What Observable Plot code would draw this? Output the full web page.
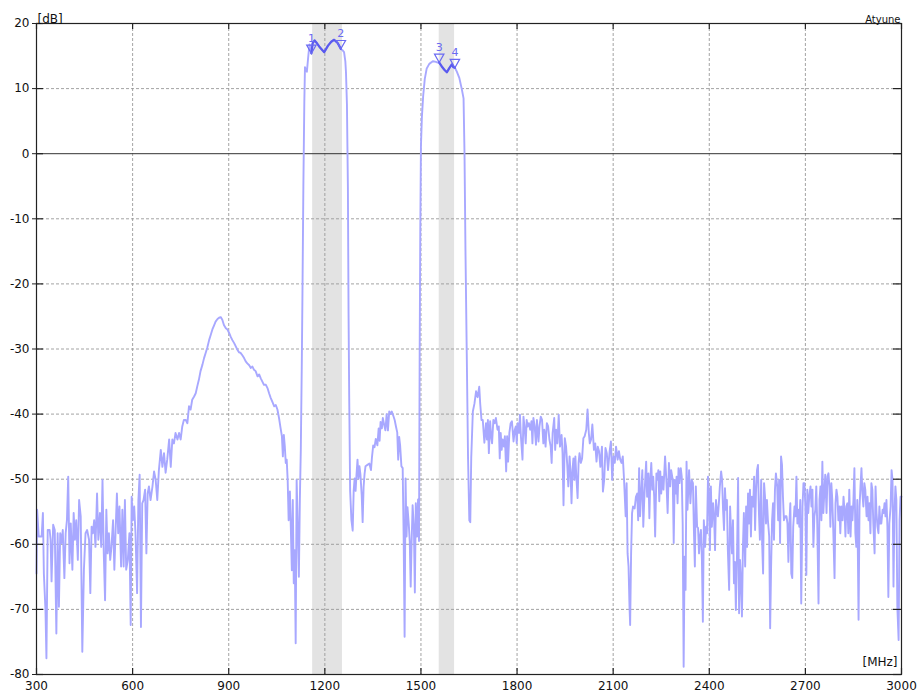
<!DOCTYPE html>
<html><head><meta charset="utf-8">
<script src="https://cdn.jsdelivr.net/npm/d3@7"></script>
<script src="https://cdn.jsdelivr.net/npm/@observablehq/plot@0.6"></script>
<style>
html,body{margin:0;padding:0;background:#fff;}
#chart svg{display:block;}
</style></head><body><div id="chart"></div><script>
// [MHz, dB] readings of the trace, region by region
const lowNoise = [[300,-64.5],[302,-54.7],[307,-58.8],[316,-58.8],[320,-55.2],[323,-64.5],[328,-70.1],[331,-77.5],[335,-57.8],[341,-57.8],[344,-59.3],[347,-65.7],[352,-57.0],[357,-57.8],[362,-73.7],[366,-58.3],[370,-69.6],[374,-58.3],[378,-59.8],[382,-57.8],[387,-65.2],[391,-58.3],[395,-56.3],[399,-49.6],[403,-62.9],[407,-56.8],[412,-63.9],[416,-55.2],[420,-59.3],[424,-56.3],[429,-62.4],[433,-53.2],[438,-55.7],[443,-76.5],[448,-63.9],[453,-58.3],[458,-57.8],[464,-59.3],[468,-67.5],[472,-57.3],[476,-58.3],[480,-56.3],[484,-60.4],[489,-52.2],[493,-59.3],[498,-55.2],[502,-60.4],[506,-50.1],[510,-61.4],[514,-68.6],[518,-54.7],[522,-61.4],[526,-58.3],[530,-62.4],[534,-60.4],[539,-56.3],[543,-63.9],[547,-57.8],[551,-52.2],[555,-58.3],[559,-54.2],[564,-63.4],[568,-54.7],[572,-63.4],[576,-53.2],[580,-63.9],[585,-62.4],[590,-58.3],[594,-72.4],[597,-52.7],[601,-56.3],[605,-54.2],[609,-58.3],[614,-67.5],[618,-53.2],[622,-49.3],[626,-72.7],[630,-53.7],[634,-53.2],[639,-51.6],[643,-61.4],[647,-52.2],[651,-51.1],[656,-53.2],[662,-51.1],[667,-48.8],[672,-50.1],[677,-53.2],[682,-48.6],[688,-45.5],[693,-48.1],[698,-46.0],[703,-49.0],[708,-47.0],[714,-43.9],[719,-48.1],[724,-43.9],[729,-44.5],[734,-42.9],[740,-43.9],[745,-42.9],[750,-43.9],[755,-41.9],[760,-40.9]];
const hump900 = [[766,-40.9],[771,-41.4],[776,-38.8],[781,-39.3],[786,-37.8],[792,-37.3],[797,-36.8],[802,-35.7],[807,-34.7],[812,-33.4],[818,-32.4],[823,-31.4],[828,-30.6],[833,-29.8],[839,-28.6],[844,-27.8],[849,-27.0],[854,-26.4],[859,-25.8],[865,-25.4],[870,-25.2],[875,-25.1],[880,-25.5],[885,-26.3],[891,-26.8],[896,-27.0],[901,-27.5],[906,-28.1],[911,-28.6],[917,-29.1],[922,-29.6],[927,-30.1],[932,-30.5],[937,-30.6],[943,-31.0],[948,-31.4],[953,-31.9],[958,-32.2],[964,-32.5],[969,-32.9],[974,-32.7],[979,-33.2],[984,-33.4],[990,-34.2],[995,-33.9],[1000,-34.5],[1005,-35.0],[1010,-35.5],[1016,-35.5],[1021,-36.0],[1026,-36.8],[1031,-37.5],[1036,-38.1],[1042,-38.8],[1047,-38.6],[1052,-39.3],[1057,-40.6],[1062,-42.2],[1066,-43.4],[1069,-46.5],[1072,-43.2],[1075,-44.9],[1078,-47.5],[1081,-47.0],[1084,-50.1],[1087,-56.3],[1091,-51.9],[1094,-57.8],[1097,-64.0],[1100,-53.2],[1103,-66.0],[1106,-60.9],[1109,-75.2],[1112,-50.1],[1116,-58.3],[1119,-65.0],[1122,-53.2],[1125,-45.5],[1128,-32.7],[1130,-22.4]];
const passband1 = [[1133,-5],[1136,8],[1138,13.3],[1141,12.8],[1144,12.6],[1148,14.8],[1152,16.8],[1155,16.4],[1158,15.4],[1162,17.0],[1168,17.4],[1175,17.0],[1185,16.3],[1198,15.6],[1210,16.6],[1220,17.2],[1229,17.5],[1240,17.0],[1250,16.1],[1255,15.9],[1260,15.6],[1264,14.2],[1266,12.5],[1269,7.6],[1272,-5.1],[1274,-24.3],[1276,-37.1]];
const midGap = [[1279,-51.8],[1283,-56.3],[1287,-57.9],[1290,-51.8],[1293,-49.9],[1296,-51.8],[1299,-49.2],[1302,-47.0],[1305,-49.9],[1308,-48.0],[1311,-49.2],[1315,-52.4],[1318,-56.6],[1321,-51.2],[1324,-49.2],[1327,-48.0],[1333,-47.8],[1339,-47.6],[1344,-48.6],[1347,-46.7],[1351,-44.8],[1355,-45.1],[1359,-43.8],[1364,-44.8],[1368,-42.2],[1371,-44.1],[1374,-41.2],[1378,-42.2],[1381,-40.6],[1385,-41.6],[1389,-42.5],[1393,-40.0],[1397,-42.5],[1401,-39.6],[1405,-40.0],[1409,-39.6],[1414,-40.3],[1418,-40.9],[1422,-41.9],[1426,-42.8],[1429,-47.0],[1432,-43.5],[1435,-44.8],[1439,-48.0],[1443,-48.3],[1446,-58.8],[1449,-74.2],[1452,-49.9],[1455,-58.8],[1458,-54.3],[1462,-56.9],[1465,-59.5],[1468,-66.5],[1471,-59.5],[1474,-54.0],[1478,-57.5],[1481,-67.4],[1484,-53.7],[1488,-58.8],[1491,-53.1],[1494,-59.5]];
const passband2 = [[1496,-30.7],[1498,-11.5],[1500,1.2],[1503,5.7],[1507,8.9],[1512,11.5],[1518,13.1],[1526,13.8],[1537,14.2],[1547,14.1],[1552,14.0],[1557,14.0],[1565,13.4],[1573,12.9],[1581,12.5],[1588,13.1],[1596,13.7],[1601,13.3],[1606,13.2],[1612,12.6],[1620,11.6],[1628,9.8],[1633,8.5],[1636,0],[1639,-15],[1643,-30.7],[1647,-46.7],[1651,-56.3],[1654,-56.6],[1657,-46.7],[1662,-39.6],[1667,-38.4],[1672,-36.5],[1677,-37.4],[1682,-35.8],[1685,-38.4],[1689,-40.9],[1693,-40.9],[1698,-44.4]];
const shelf1900 = [[1703,-41.4],[1706,-43.9],[1709,-40.9],[1712,-46.0],[1716,-41.1],[1719,-43.4],[1722,-44.5],[1726,-40.9],[1730,-41.4],[1734,-40.6],[1739,-42.4],[1743,-41.9],[1746,-46.8],[1749,-42.9],[1752,-45.5],[1755,-43.9],[1759,-45.0],[1762,-43.4],[1766,-48.8],[1769,-43.4],[1772,-47.3],[1776,-42.9],[1780,-41.4],[1784,-41.1],[1789,-44.2],[1793,-42.4],[1796,-41.9],[1799,-44.5],[1802,-41.4],[1806,-42.9],[1809,-40.1],[1812,-43.4],[1817,-47.0],[1820,-40.4],[1824,-42.4],[1827,-44.5],[1830,-40.9],[1833,-41.9],[1837,-41.4],[1841,-42.4],[1845,-41.1],[1848,-44.5],[1851,-40.6],[1855,-41.9],[1859,-44.7],[1862,-40.9],[1867,-44.2],[1870,-41.9],[1874,-40.4],[1878,-40.9],[1882,-44.5],[1885,-42.4],[1889,-45.0],[1893,-41.4],[1897,-41.9],[1901,-43.9],[1905,-45.0],[1908,-47.5],[1911,-42.9],[1916,-40.6],[1919,-45.5],[1922,-42.4],[1926,-44.5],[1930,-40.1],[1934,-45.0],[1939,-43.2],[1942,-46.0],[1945,-54.0],[1949,-43.7],[1953,-45.0],[1957,-48.1],[1960,-51.1],[1964,-46.5],[1967,-49.1],[1970,-53.7],[1973,-48.6],[1976,-46.8],[1979,-50.1],[1982,-46.5],[1985,-49.6],[1989,-52.9],[1992,-47.5],[1995,-46.0],[1999,-47.5],[2003,-46.8],[2007,-43.7],[2011,-43.4],[2016,-42.4],[2020,-39.3],[2024,-42.9],[2027,-44.5],[2031,-43.9],[2035,-41.6],[2040,-45.5],[2044,-44.5],[2048,-47.3],[2052,-45.0],[2056,-45.7],[2060,-48.1],[2065,-45.0],[2068,-51.9],[2072,-50.1],[2076,-45.2],[2080,-46.0],[2084,-48.6],[2089,-45.7],[2093,-44.2],[2097,-50.1],[2101,-46.5],[2105,-47.5],[2109,-45.0],[2114,-47.0],[2118,-45.7],[2122,-47.0],[2126,-47.5],[2130,-46.5],[2134,-50.1],[2139,-55.7],[2142,-50.6],[2145,-61.4],[2148,-63.4],[2151,-69.6],[2153,-72.4],[2156,-61.4],[2159,-55.2],[2162,-54.2],[2167,-54.5],[2171,-52.7]];
const highNoiseA = [[2175,-52.2],[2178,-56.3],[2181,-48.3],[2184,-55.7],[2188,-51.6],[2191,-48.6],[2194,-57.3],[2197,-53.2],[2200,-50.1],[2203,-47.3],[2206,-52.7],[2210,-49.1],[2213,-56.0],[2216,-50.1],[2219,-47.5],[2222,-51.6],[2225,-49.6],[2228,-52.7],[2231,-58.8],[2235,-49.1],[2238,-50.1],[2241,-48.6],[2244,-53.4],[2247,-48.8],[2250,-52.2],[2253,-49.6],[2257,-51.6],[2262,-46.5],[2266,-50.1],[2270,-55.2],[2274,-47.5],[2278,-51.1],[2281,-48.6],[2286,-50.1],[2289,-59.8],[2292,-50.1],[2295,-52.2],[2298,-49.6],[2301,-53.7],[2304,-48.3],[2307,-50.6],[2311,-48.3],[2314,-49.6],[2317,-56.8],[2320,-78.8],[2323,-61.9],[2326,-67.0],[2329,-47.3],[2332,-54.7],[2337,-48.6],[2341,-53.7],[2345,-50.1],[2349,-50.6],[2352,-57.8],[2355,-63.4],[2358,-51.1],[2362,-57.3],[2365,-57.5],[2368,-61.4],[2371,-58.8],[2374,-57.8],[2377,-62.4],[2380,-71.9],[2383,-56.3],[2387,-60.4],[2390,-57.3],[2393,-58.3],[2396,-49.6],[2399,-52.2],[2402,-60.9],[2405,-51.1],[2408,-57.3],[2412,-53.7],[2415,-55.7],[2418,-60.9],[2421,-53.2],[2424,-54.7],[2427,-55.7],[2430,-53.7],[2433,-51.1],[2437,-48.8],[2440,-50.1],[2443,-54.7],[2446,-57.8],[2449,-51.4],[2452,-54.7],[2455,-53.2],[2458,-60.9],[2462,-67.0],[2465,-54.2],[2468,-58.3],[2471,-61.4],[2474,-56.3],[2477,-66.0],[2480,-62.7],[2483,-70.1],[2487,-60.4],[2490,-49.8],[2493,-70.6],[2496,-62.4],[2499,-65.5],[2502,-71.1],[2505,-60.4],[2508,-55.2],[2512,-63.4],[2515,-54.2],[2518,-60.4],[2521,-52.2],[2524,-56.8],[2527,-51.6],[2530,-58.8],[2533,-52.7],[2537,-54.2],[2540,-49.6],[2543,-57.8],[2546,-51.6],[2549,-48.6],[2552,-47.8],[2555,-55.2],[2558,-59.3],[2562,-50.1],[2565,-59.8],[2568,-64.5],[2571,-50.6],[2574,-52.7],[2577,-56.8],[2580,-53.2],[2583,-56.3],[2587,-58.8],[2590,-72.9],[2593,-63.4],[2596,-56.3],[2599,-53.7],[2602,-59.3],[2605,-51.6],[2608,-49.1],[2612,-51.1],[2615,-56.3],[2618,-50.1],[2621,-59.8],[2624,-46.5],[2627,-47.8],[2630,-52.7],[2633,-56.3],[2637,-55.7]];
const highNoiseB = [[2641,-55.7],[2644,-56.8],[2647,-62.7],[2650,-56.8],[2653,-53.7],[2656,-64.5],[2659,-65.2],[2662,-57.3],[2666,-54.2],[2669,-55.7],[2672,-49.6],[2675,-56.8],[2678,-54.7],[2681,-57.3],[2684,-53.2],[2687,-69.1],[2691,-54.2],[2694,-50.6],[2697,-50.6],[2700,-54.2],[2703,-64.7],[2706,-51.6],[2709,-55.2],[2712,-52.7],[2716,-51.1],[2719,-54.2],[2722,-51.6],[2725,-60.4],[2728,-55.7],[2731,-54.7],[2734,-51.1],[2737,-56.8],[2741,-69.1],[2744,-53.2],[2747,-51.1],[2750,-56.3],[2753,-47.3],[2756,-55.2],[2759,-52.2],[2762,-49.3],[2766,-55.2],[2769,-49.6],[2772,-49.1],[2775,-51.1],[2778,-57.3],[2781,-50.6],[2784,-53.2],[2787,-57.8],[2791,-65.2],[2794,-53.7],[2797,-51.6],[2800,-52.7],[2803,-56.3],[2806,-54.2],[2809,-58.3],[2812,-54.2],[2816,-56.3],[2819,-52.7],[2822,-54.7],[2825,-58.8],[2828,-54.2],[2831,-53.7],[2834,-58.3],[2837,-51.6],[2841,-58.8],[2844,-54.2],[2847,-56.3],[2850,-53.2],[2853,-48.3],[2856,-58.3],[2859,-60.4],[2862,-53.2],[2866,-71.6],[2869,-54.2],[2872,-51.1],[2875,-48.3],[2878,-52.2],[2881,-54.2],[2884,-50.6],[2887,-51.6],[2891,-55.7],[2894,-52.7],[2897,-56.3],[2900,-53.7],[2903,-58.3],[2906,-50.6],[2909,-51.6],[2912,-56.8],[2916,-61.4],[2919,-51.1],[2922,-55.2],[2925,-57.3],[2928,-58.3],[2931,-54.2],[2934,-56.8],[2937,-56.8],[2941,-54.7],[2944,-55.2],[2947,-53.7],[2950,-55.7],[2953,-53.2],[2956,-57.3],[2959,-68.1],[2962,-56.8],[2966,-54.2],[2969,-48.6],[2972,-50.1],[2975,-66.5],[2978,-55.2],[2981,-51.1],[2984,-53.2],[2987,-69.6],[2991,-74.7],[2994,-56.3],[2997,-52.7],[3000,-52.7]];

const xTicks = [300, 600, 900, 1200, 1500, 1800, 2100, 2400, 2700, 3000];
const yTicks = [20, 10, 0, -10, -20, -30, -40, -50, -60, -70, -80];
const bandStart = [1162, 1557];
const bandEnd = [1255, 1605];
const markerFreq = [1158, 1250, 1557, 1606];
const markerDb = [15.4, 16.1, 14.0, 13.2];
const markerLabel = ["1", "2", "3", "4"];

const trace = [...lowNoise, ...hump900, ...passband1, ...midGap, ...passband2, ...shelf1900, ...highNoiseA, ...highNoiseB]
  .map(([f, v]) => ({f, v}));
const highlight = trace
  .filter(d => (d.f >= markerFreq[0] && d.f <= markerFreq[1]) || (d.f >= markerFreq[2] && d.f <= markerFreq[3]))
  .map(d => ({...d, seg: d.f <= markerFreq[1] ? "a" : "b"}));
const bands = bandStart.map((s, i) => ({s, e: bandEnd[i]}));
const markers = markerFreq.map((f, i) => ({f, v: markerDb[i], label: markerLabel[i]}));

// downward-pointing triangle, apex at the data point
const downTriangle = {
  draw(ctx, size) {
    const k = Math.sqrt(size / Math.PI);
    const w = 1.35 * k, h = 2.4 * k;
    ctx.moveTo(0, 0); ctx.lineTo(-w, -h); ctx.lineTo(w, -h); ctx.closePath();
  }
};

const W = 919, H = 695, mT = 23, mB = 21, mL = 36, mR = 18;
const plotW = W - mL - mR, plotH = H - mT - mB;
const ink = "#222";
const gridStyle = {stroke: "#999", strokeOpacity: 1, strokeDasharray: "3,2", strokeWidth: 0.9};

const chart = Plot.plot({
  width: W, height: H,
  marginTop: mT, marginBottom: mB, marginLeft: mL, marginRight: mR,
  x: {domain: [300, 3000], label: null},
  y: {domain: [-80, 20], label: null},
  style: {fontFamily: "'DejaVu Sans', Verdana, sans-serif", fontSize: "12px", background: "#fff", color: "#111"},
  marks: [
    Plot.rect(bands, {x1: "s", x2: "e", fill: "#e3e3e3"}),
    Plot.gridX(xTicks, gridStyle),
    Plot.gridY(yTicks.filter(t => t !== 0), gridStyle),
    Plot.ruleY([0], {stroke: "#333", strokeWidth: 1}),
    Plot.line(trace, {x: "f", y: "v", stroke: "#a8a8ff", strokeWidth: 1.9, strokeLinejoin: "round"}),
    Plot.line(highlight, {x: "f", y: "v", z: "seg", stroke: "#5a5aee", strokeWidth: 2.2}),
    Plot.dot(markers, {x: "f", y: "v", symbol: downTriangle, r: 3.5, stroke: "#6a6af2", strokeWidth: 1.2, fill: "none"}),
    Plot.text(markers, {x: "f", y: "v", text: "label", dy: -15, fill: "#6a6af2", fontSize: 11}),
    Plot.frame({stroke: ink, strokeWidth: 1.2}),
    Plot.tickX(xTicks, {x: d => d, insetBottom: plotH - 6, stroke: ink, strokeWidth: 1.2}),
    Plot.tickX(xTicks, {x: d => d, insetTop: plotH - 6, stroke: ink, strokeWidth: 1.2}),
    Plot.tickY(yTicks, {y: d => d, insetRight: plotW - 7, stroke: ink, strokeWidth: 1.2}),
    Plot.tickY(yTicks, {y: d => d, insetLeft: plotW - 8, stroke: ink, strokeWidth: 1.2}),
    Plot.axisX({ticks: xTicks, anchor: "bottom", tickSize: 0, tickPadding: 7, label: null, tickFormat: d => String(d), fill: "#111"}),
    Plot.axisY({ticks: yTicks, anchor: "left", tickSize: 4, tickPadding: 3, label: null, tickFormat: d => String(d), stroke: ink, fill: "#111"}),
    Plot.text(["[dB]"], {text: d => d, frameAnchor: "top-left", dx: 1, dy: -9, textAnchor: "start", fontSize: 12, fill: "#111"}),
    Plot.text(["Atyune"], {text: d => d, frameAnchor: "top-right", dx: -1, dy: -8, textAnchor: "end", fontSize: 10, fill: "#111"}),
    Plot.text(["[MHz]"], {text: d => d, frameAnchor: "bottom-right", dx: -4, dy: -9, textAnchor: "end", fontSize: 12, fill: "#111"})
  ]
});
document.getElementById("chart").appendChild(chart);
</script></body></html>
